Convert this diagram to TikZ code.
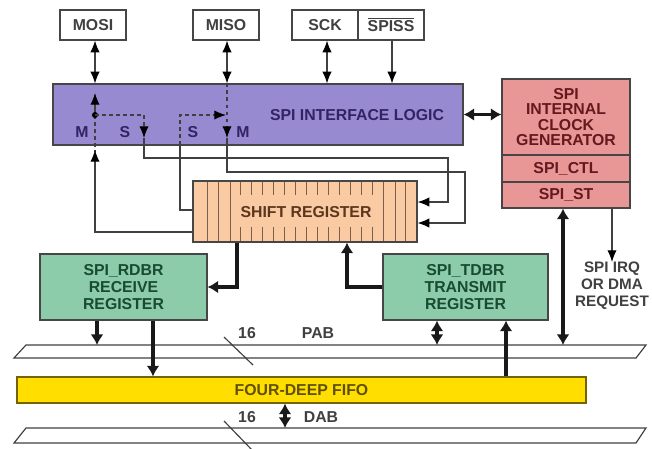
\documentclass[tikz,border=0pt]{standalone}
\usepackage{fontspec}
\setmainfont{Liberation Sans}
\usetikzlibrary{arrows.meta}
\definecolor{ifc}{RGB}{152,138,208}
\definecolor{ifctext}{RGB}{50,35,100}
\definecolor{clkc}{RGB}{232,150,150}
\definecolor{clktext}{RGB}{100,25,30}
\definecolor{shc}{RGB}{250,202,162}
\definecolor{shtext}{RGB}{90,55,30}
\definecolor{regc}{RGB}{140,204,170}
\definecolor{regtext}{RGB}{25,75,50}
\definecolor{fifoc}{RGB}{255,222,0}
\definecolor{fifotext}{RGB}{95,80,0}
\definecolor{edge}{RGB}{70,70,70}
\newcommand{\barred}[1]{\vbox{\hrule height 0.8pt\kern1.6pt\hbox{#1}}}
\tikzset{
  txt/.style={font=\fontsize{13.5}{14.5}\selectfont\bfseries, inner sep=0pt},
  blk/.style={txt, draw=edge, line width=1pt, align=center},
  pin/.style={blk, fill=white, text=black!75, minimum width=1.98cm, minimum height=0.9cm},
  wire/.style={draw=black!75, line width=1pt},
  arr/.style={-{Latex[length=10pt,width=8pt,color=black]}},
  darr/.style={{Latex[length=10pt,width=8pt,color=black]}-{Latex[length=10pt,width=8pt,color=black]}},
  lbl/.style={txt, text=ifctext},
  bus/.style={draw=black!90, line width=3.4pt},
  busto/.style={bus, -{Latex[length=9pt,width=11pt]}},
  busboth/.style={bus, {Latex[length=9pt,width=11pt]}-{Latex[length=9pt,width=11pt]}}
}
\begin{document}
\begin{tikzpicture}[x=0.03cm, y=-0.03cm]
\useasboundingbox (0,0) rectangle (652,448);

% pins
\node[pin] (mosi) at (93,25) {MOSI};
\node[pin] (miso) at (226,25) {MISO};
\node[pin] (sck) at (325,25) {SCK};
\node[pin] (spiss) at (391,25) {\barred{SPISS}};

% interface logic
\node[blk, fill=ifc, minimum width=12.3cm, minimum height=1.83cm] (spi) at (258,114.5) {};
\node[txt, text=ifctext] (spitxt) at (357,115) {SPI INTERFACE LOGIC};

% clock generator
\node[blk, fill=clkc, text=clktext, minimum width=3.84cm, minimum height=2.28cm,
      font=\fontsize{13.5}{13.2}\selectfont\bfseries] (clkgen) at (566,117) {SPI\\INTERNAL\\CLOCK\\GENERATOR};
\node[blk, fill=clkc, text=clktext, minimum width=3.84cm, minimum height=0.81cm] (clkctl) at (566,168.5) {SPI\_CTL};
\node[blk, fill=clkc, text=clktext, minimum width=3.84cm, minimum height=0.78cm] (clkst) at (566,195) {SPI\_ST};

% shift register
\node[blk, fill=shc, minimum width=6.72cm, minimum height=1.83cm] (sr) at (305,211.5) {};
\foreach \x in {207,218,230,383,395,405}
    \draw[shtext!80, line width=0.6pt] (\x,182) -- (\x,241);
\foreach \x in {240,251,...,372}
{
    \draw[shtext!80, line width=0.6pt] (\x,182) -- (\x,195);
    \draw[shtext!80, line width=0.6pt] (\x,227) -- (\x,241);
}
\node[txt, text=shtext] (srtxt) at (306,212) {SHIFT REGISTER};

% registers and fifo
\node[blk, fill=regc, text=regtext, minimum width=5.01cm, minimum height=1.98cm] (rdbr) at (123.5,287) {SPI\_RDBR\\RECEIVE\\REGISTER};
\node[blk, fill=regc, text=regtext, minimum width=4.95cm, minimum height=1.98cm] (tdbr) at (465.5,287) {SPI\_TDBR\\TRANSMIT\\REGISTER};
\node[blk, fill=fifoc, draw=fifoc!45!black, text=fifotext, minimum width=17.07cm, minimum height=0.78cm] (fifo) at (301.5,390) {FOUR-DEEP FIFO};

% buses
\draw[wire] (14,358) -- (26,345) -- (646,345) -- (636,358) -- cycle;
\draw[wire] (14,443) -- (26,428) -- (646,428) -- (636,443) -- cycle;
\coordinate (pab) at (330,345);
\coordinate (dab) at (330,428);
\draw[wire] (224,337) -- (253,365);
\draw[wire] (224,421) -- (252,450);
\node[txt, text=black!75] (pab16) at (247,333) {16};
\node[txt, text=black!75] (pablbl) at (318,333) {PAB};
\node[txt, text=black!75] (dab16) at (247,417) {16};
\node[txt, text=black!75] (dablbl) at (321,417) {DAB};

% thick data paths
\draw[busboth] (spi.east) -- (spi.east -| clkgen.west);
\draw[busto] (237,0 |- sr.south) |- (rdbr.east);
\draw[busto] (tdbr.west) -| (347,0 |- sr.south);
\draw[busto] (97,0 |- rdbr.south) -- (97,0 |- pab);
\draw[busto] (153,0 |- rdbr.south) -- (153,0 |- fifo.north);
\draw[busboth] (437,0 |- tdbr.south) -- (437,0 |- pab);
\draw[busto] (506,0 |- fifo.north) -- (506,0 |- tdbr.south);
\draw[busboth] (563,0 |- clkst.south) -- (563,0 |- pab);
\draw[busboth] (285,0 |- fifo.south) -- (285,0 |- dab);

% pin lines
\draw[wire,darr] (95,0 |- mosi.south) -- (95,0 |- spi.north);
\draw[wire,darr] (227,0 |- miso.south) -- (227,0 |- spi.north);
\draw[wire,darr] (327,0 |- sck.south) -- (327,0 |- spi.north);
\draw[wire,arr] (392,0 |- spiss.south) -- (392,0 |- spi.north);

% master/slave switching
\coordinate (mdot) at (95,115);
\draw[wire,arr] (mdot) -- (95,93);
\draw[wire,dashed] (mdot) -- (95,152);
\fill (mdot) circle (2.6pt);
\draw[wire,arr] (sr.west |- 0,232) -| (95,150);
\draw[wire,dashed,arr] (mdot) -| (144,138);
\draw[wire,arr] (144,138) |- (448,158) |- (sr.east |- 0,202);
\draw[wire,dashed,arr] (227,0 |- spi.north) -- (227,138);
\draw[wire,arr] (227,138) |- (465,172) |- (sr.east |- 0,223);
\draw[wire] (sr.west |- 0,210) -| (180,145);
\draw[wire,dashed,arr] (180,145) |- (226,115);
\node[lbl] (m1) at (82,132) {M};
\node[lbl] (s1) at (125,132) {S};
\node[lbl] (s2) at (193,132) {S};
\node[lbl] (m2) at (243,132) {M};

% interrupt request
\node[txt, text=black!75, align=center, font=\fontsize{13}{14.5}\selectfont\bfseries] (irq) at (612,286) {SPI IRQ\\OR DMA\\REQUEST};
\draw[wire,arr] (612,0 |- clkst.south) -- (irq.north);

\end{tikzpicture}
\end{document}
